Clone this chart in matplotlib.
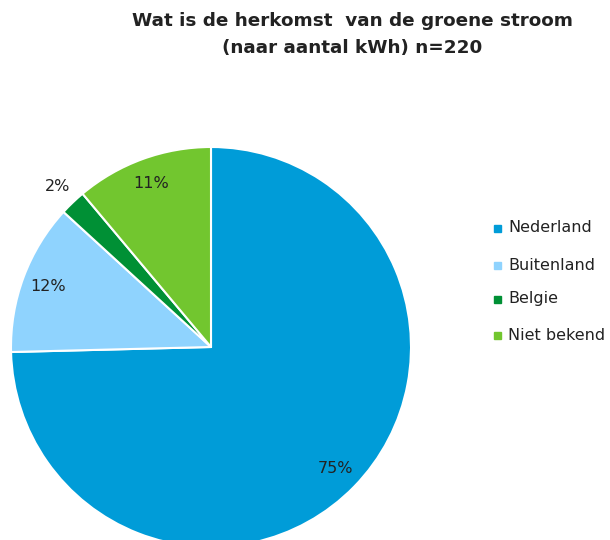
import numpy as np
import matplotlib
matplotlib.use("Agg")
import matplotlib.pyplot as plt
from matplotlib.patches import Rectangle

categories = ["Nederland", "Buitenland", "Belgie", "Niet bekend"]
values = [74.6, 12.2, 2.1, 11.1]
pct_labels = ["75%", "12%", "2%", "11%"]
colors = ["#009CD8", "#8FD3FE", "#009035", "#72C62F"]
title = "Wat is de herkomst  van de groene stroom\n(naar aantal kWh) n=220"

W, H = 610, 540
fig = plt.figure(figsize=(W / 100, H / 100), dpi=100)
ax = fig.add_axes([0, 0, 1, 1])

cx, cy, r = 211, H - 347, 200
wedges, _ = ax.pie(values, colors=colors, startangle=90, counterclock=False,
                   center=(cx, cy), radius=r, frame=True,
                   wedgeprops=dict(edgecolor="white", linewidth=1.5))
ax.set_xlim(0, W)
ax.set_ylim(0, H)
ax.set_aspect("equal")
ax.axis("off")

label_dist = [0.87, 0.87, 1.11, 0.87]
for w, lab, d in zip(wedges, pct_labels, label_dist):
    ang = np.deg2rad((w.theta1 + w.theta2) / 2)
    ax.text(cx + d * r * np.cos(ang), cy + d * r * np.sin(ang), lab,
            ha="center", va="center", fontsize=11.5, color="#222222")

fig.text(352 / W, 1 - 34.5 / H, title, ha="center", va="center",
         fontsize=13.2, fontweight="bold", color="#222222", linespacing=1.6)

ys = [228, 265, 299, 335]
for c, name, y in zip(colors, categories, ys):
    ax.add_patch(Rectangle((494, H - y - 3.5), 7, 7, color=c, clip_on=False))
    ax.text(508, H - y, name, ha="left", va="center", fontsize=11.5, color="#222222")

fig.savefig("out.png", dpi=100, facecolor="white")
